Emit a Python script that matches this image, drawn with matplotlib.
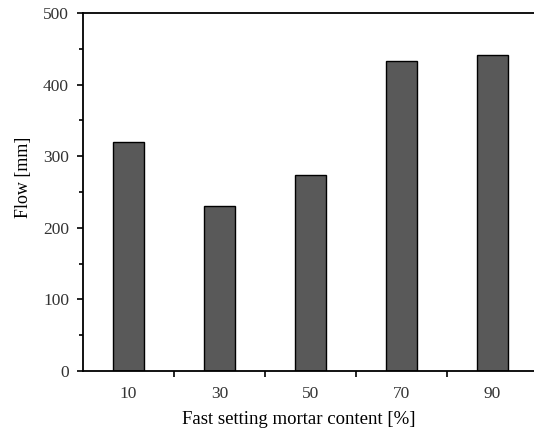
import numpy as np
import matplotlib
matplotlib.use("Agg")
import matplotlib.pyplot as plt
from matplotlib.ticker import MultipleLocator, FixedLocator

# Flow vs fast setting mortar content
contents = ["10", "30", "50", "70", "90"]
flow = [320, 230, 274, 433, 442]

plt.rcParams['font.family'] = ['Liberation Serif', 'DejaVu Serif']

fig = plt.figure(figsize=(5.34, 4.28), dpi=100)
ax = fig.add_axes([83/534, 57/428, 455/534, 358/428])

x = np.arange(len(contents))
ax.bar(x, flow, width=0.33, color='#595959', edgecolor='black', linewidth=1.0)

ax.set_xlim(-0.5, len(contents) - 0.5)
ax.set_ylim(0, 500)

ax.set_xticks(x)
ax.set_xticklabels(contents)
ax.xaxis.set_minor_locator(FixedLocator(x[:-1] + 0.5))
ax.tick_params(axis='x', which='major', length=0, pad=11, labelsize=12.5, colors='#333333')
ax.tick_params(axis='x', which='minor', length=4, width=1.2, direction='out')

ax.yaxis.set_major_locator(MultipleLocator(100))
ax.yaxis.set_minor_locator(MultipleLocator(50))
ax.tick_params(axis='y', which='major', length=4, width=1.2, direction='out', pad=6,
               labelsize=12.5, labelcolor='#333333')
ax.tick_params(axis='y', which='minor', length=3, width=1.2, direction='out')

for s in ax.spines.values():
    s.set_linewidth(1.3)

ax.set_xlabel("Fast setting mortar content [%]", fontsize=13.5, labelpad=5)
ax.xaxis.set_label_coords(0.475, -0.112)
ax.set_ylabel("Flow [mm]", fontsize=13)
ax.yaxis.set_label_coords(-0.113, 0.542)

fig.savefig("out.png", dpi=100)
